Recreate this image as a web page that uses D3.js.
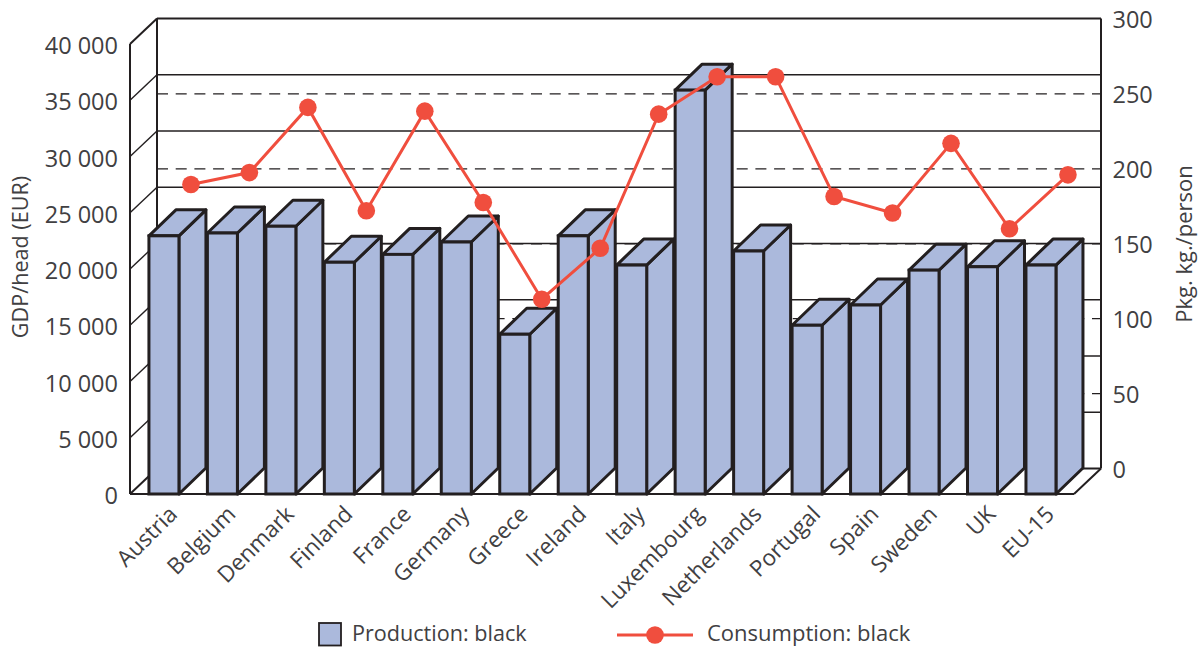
<!DOCTYPE html>
<html><head><meta charset="utf-8">
<script src="https://cdnjs.cloudflare.com/ajax/libs/d3/7.8.5/d3.min.js"></script>
<style>html,body{margin:0;padding:0;background:#fff}svg{display:block}text{font-family:"Open Sans",sans-serif;fill:#414042}</style>
</head><body><svg id="c" width="1199" height="647"></svg>
<script>
const categories=["Austria","Belgium","Denmark","Finland","France","Germany","Greece","Ireland","Italy","Luxembourg","Netherlands","Portugal","Spain","Sweden","UK","EU-15"];
const production=[22950,23200,23800,20600,21300,22400,14200,22950,20350,35900,21600,15000,16800,19900,20200,20350];
const consumption=[189.5,197.5,241,172,238.5,177.5,113,147,236.5,261.5,261.5,181.5,170.5,217,160,196];
const leftTicks=[0,5000,10000,15000,20000,25000,30000,35000,40000];
const rightTicks=[0,50,100,150,200,250,300];
const seriesNames=["Production: black","Consumption: black"];
const INK="#231f20",BLUE="#abb9dc",RED="#f04e3e";
const dx=27,dy=-25.5,barDy=-26;
const svg=d3.select("#c");
const yL=d3.scaleLinear().domain([0,40000]).range([494,44]);
const yR=d3.scaleLinear().domain([0,300]).range([468.5,19]);
const x=d3.scaleBand().domain(categories).range([134.7,1070.2]).paddingInner(0.487).paddingOuter(0.2435);
const fmt=v=>d3.format(",")(v).replace(/,/g," ");
const bw=x.bandwidth();
const x0=130,x1=1074;
const g=svg.append("g");
g.selectAll(".grid").data(leftTicks).join("line")
 .attr("x1",x0+dx).attr("x2",x1+dx).attr("y1",d=>yL(d)+dy).attr("y2",d=>yL(d)+dy)
 .attr("stroke",INK).attr("stroke-width",d=>d===40000||d===0?2:1.5);
g.selectAll(".diag").data(leftTicks).join("line")
 .attr("x1",x0).attr("x2",x0+dx).attr("y1",d=>yL(d)).attr("y2",d=>yL(d)+dy)
 .attr("stroke",INK).attr("stroke-width",d=>d===40000||d===0?2:1.4);
g.selectAll(".dash").data(rightTicks.slice(1,-1)).join("line")
 .attr("x1",x0+dx).attr("x2",x1+dx).attr("y1",d=>yR(d)).attr("y2",d=>yR(d))
 .attr("stroke",INK).attr("stroke-width",1.4).attr("stroke-dasharray","11 7.7");
const frame=[[[x0,yL(0)],[x0,yL(40000)]],[[x0+dx,yL(0)+dy],[x0+dx,yL(40000)+dy]],[[x1+dx,yL(0)+dy],[x1+dx,yL(40000)+dy]],[[x0,yL(0)],[x1,yL(0)]],[[x1,yL(0)],[x1+dx,yL(0)+dy]]];
g.selectAll(".frame").data(frame).join("path").attr("d",d3.line()).attr("fill","none").attr("stroke",INK).attr("stroke-width",2);
svg.append("g").attr("transform",`translate(${x0},2)`)
 .call(d3.axisLeft(yL).tickValues(leftTicks).tickFormat(fmt).tickSize(0).tickPadding(12))
 .call(a=>{a.select(".domain").remove();a.selectAll("text").attr("font-size",23.5).attr("fill","#414042").style("font-family",'"Open Sans",sans-serif')});
svg.append("g").attr("transform",`translate(${x1+dx},1)`)
 .call(d3.axisRight(yR).tickValues(rightTicks).tickSize(0).tickPadding(11.5))
 .call(a=>{a.select(".domain").remove();a.selectAll("text").attr("font-size",23.5).attr("fill","#414042").style("font-family",'"Open Sans",sans-serif')});
const bars=svg.append("g").selectAll("g").data(categories).join("g");
const sw=3;
bars.append("path").attr("d",(c,i)=>{const l=x(c),r=l+bw,t=yL(production[i]);return `M${r},${yL(0)}L${r},${t}L${r+dx},${t+barDy}L${r+dx},${yL(0)+barDy}Z`})
 .attr("fill",BLUE).attr("stroke",INK).attr("stroke-width",sw).attr("stroke-linejoin","round");
bars.append("path").attr("d",(c,i)=>{const l=x(c),r=l+bw,t=yL(production[i]);return `M${l},${t}L${l+dx},${t+barDy}L${r+dx},${t+barDy}L${r},${t}Z`})
 .attr("fill",BLUE).attr("stroke",INK).attr("stroke-width",sw).attr("stroke-linejoin","round");
bars.append("rect").attr("x",c=>x(c)).attr("width",bw).attr("y",(c,i)=>yL(production[i])).attr("height",(c,i)=>yL(0)-yL(production[i]))
 .attr("fill",BLUE).attr("stroke",INK).attr("stroke-width",sw);
const px=c=>x(c)+bw/2+dx;
svg.append("path").attr("d",d3.line().x((d,i)=>px(categories[i])).y(d=>yR(d))(consumption))
 .attr("fill","none").attr("stroke",RED).attr("stroke-width",3);
svg.append("g").selectAll("circle").data(consumption).join("circle")
 .attr("cx",(d,i)=>px(categories[i])).attr("cy",d=>yR(d)).attr("r",8.8).attr("fill",RED);
svg.append("g").selectAll("text").data(categories).join("text")
 .attr("transform",c=>`translate(${x(c)+bw/2+9},510) rotate(-45)`)
 .attr("text-anchor","end").attr("font-size",22.5).attr("dy","0.35em").text(c=>c);
svg.append("text").attr("transform","translate(28,257) rotate(-90)").attr("text-anchor","middle").attr("font-size",21.6).text("GDP/head (EUR)");
svg.append("text").attr("transform","translate(1192,244) rotate(-90)").attr("text-anchor","middle").attr("font-size",22).text("Pkg. kg./person");
svg.append("rect").attr("x",319).attr("y",623).attr("width",22).attr("height",22.5).attr("fill",BLUE).attr("stroke",INK).attr("stroke-width",1.8);
svg.append("text").attr("x",352).attr("y",641).attr("font-size",21.6).text(seriesNames[0]);
svg.append("line").attr("x1",617).attr("x2",693).attr("y1",635).attr("y2",635).attr("stroke",RED).attr("stroke-width",3);
svg.append("circle").attr("cx",655).attr("cy",635).attr("r",8.8).attr("fill",RED);
svg.append("text").attr("x",707).attr("y",641).attr("font-size",22).text(seriesNames[1]);
</script></body></html>
